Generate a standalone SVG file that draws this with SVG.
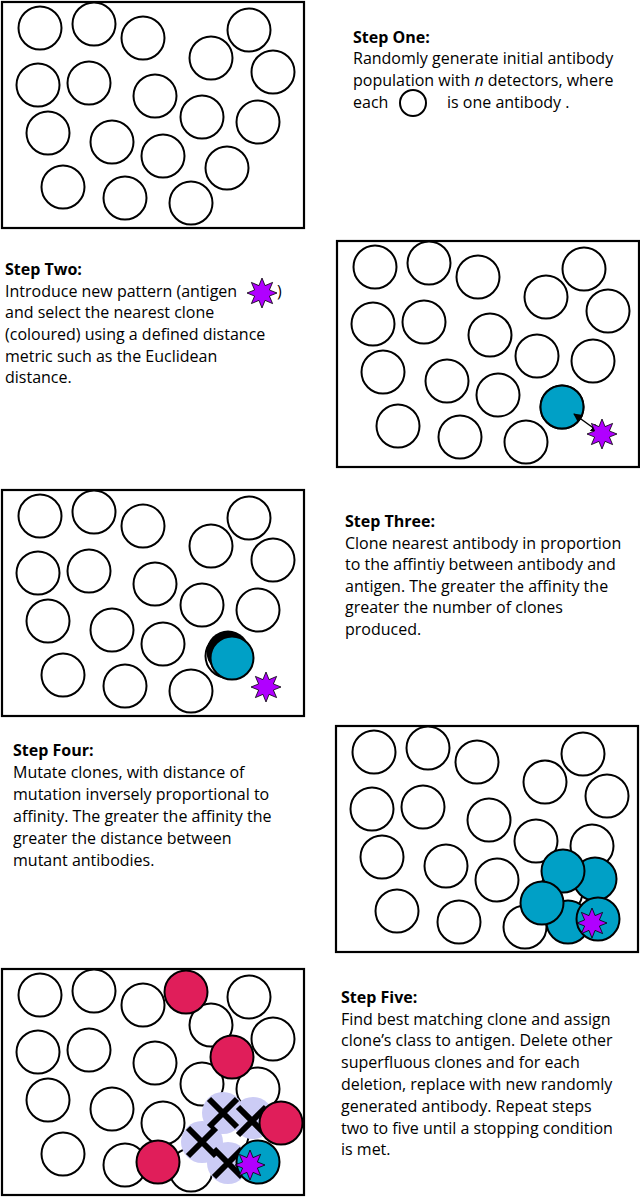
<svg xmlns="http://www.w3.org/2000/svg" xmlns:xlink="http://www.w3.org/1999/xlink" width="640" height="1198" viewBox="0 0 640 1198">
<style>
.box{fill:#fff;stroke:#000;stroke-width:2.2}
.c{fill:#fff;stroke:#000;stroke-width:2}
.cy{fill:#00a0c6;stroke:#000;stroke-width:2}
.rd{fill:#e01e5a;stroke:#000;stroke-width:2}
.lv{fill:#ccccf5;stroke:none}
.x{stroke:#000;stroke-width:6;fill:none}
.st{fill:#b000ff;stroke:#000;stroke-width:0.8}
text{font-family:"Open Sans","Noto Sans",sans-serif;font-size:16px;fill:#000}
.b{font-weight:bold}
</style>
<defs>
<path id="star" d="M0,-15 L3.06,-7.39 L10.61,-10.61 L7.39,-3.06 L15,0 L7.39,3.06 L10.61,10.61 L3.06,7.39 L0,15 L-3.06,7.39 L-10.61,10.61 L-7.39,3.06 L-15,0 L-7.39,-3.06 L-10.61,-10.61 L-3.06,-7.39 Z" class="st"/>
<g id="pop">
<rect class="box" x="2" y="2" width="302" height="226"/>
<circle class="c" cx="40" cy="28" r="21.5"/><circle class="c" cx="94" cy="24" r="21.5"/><circle class="c" cx="143" cy="38" r="21.5"/>
<circle class="c" cx="249" cy="30" r="21.5"/><circle class="c" cx="211" cy="58" r="21.5"/><circle class="c" cx="273" cy="72" r="21.5"/>
<circle class="c" cx="38" cy="85" r="21.5"/><circle class="c" cx="89" cy="83" r="21.5"/><circle class="c" cx="155" cy="96" r="21.5"/>
<circle class="c" cx="202" cy="117" r="21.5"/><circle class="c" cx="258" cy="122" r="21.5"/><circle class="c" cx="48" cy="133" r="21.5"/>
<circle class="c" cx="112" cy="142" r="21.5"/><circle class="c" cx="163" cy="156" r="21.5"/><circle class="c" cx="227" cy="168" r="21.5"/>
<circle class="c" cx="63" cy="187" r="21.5"/><circle class="c" cx="125" cy="198" r="21.5"/><circle class="c" cx="191" cy="203" r="21.5"/>
</g>
<marker id="ah" viewBox="0 0 10 10" refX="9" refY="5" markerWidth="6" markerHeight="6" orient="auto-start-reverse"><path d="M0,0 L10,5 L0,10 Z" fill="#000"/></marker>
</defs>

<g id="panel1"><use xlink:href="#pop"/></g>
<g id="text1">
<text x="353" y="43" class="b">Step One:</text>
<text x="353" y="64">Randomly generate initial antibody</text>
<text x="353" y="86">population with <tspan font-style="italic">n</tspan> detectors, where</text>
<text x="353" y="108">each</text>
<circle class="c" cx="413" cy="103" r="13"/>
<text x="447" y="108">is one antibody .</text>
</g>

<g id="panel2" transform="translate(335,239)">
<use xlink:href="#pop"/>
<circle class="cy" cx="227" cy="168" r="21.5"/>
</g>
<g id="connectors">
<line x1="599" y1="432" x2="574" y2="414" stroke="#000" stroke-width="1.5" marker-start="url(#ah)" marker-end="url(#ah)"/>
</g>
<use xlink:href="#star" x="602" y="434"/>
<g id="text2">
<text x="5" y="275" class="b">Step Two:</text>
<text x="5" y="297">Introduce new pattern (antigen</text>
<use xlink:href="#star" x="262" y="293"/>
<text x="277" y="297">)</text>
<text x="5" y="318">and select the nearest clone</text>
<text x="5" y="340">(coloured) using a defined distance</text>
<text x="5" y="362">metric such as the Euclidean</text>
<text x="5" y="383">distance.</text>
</g>

<g id="panel3" transform="translate(0,488)">
<use xlink:href="#pop"/>
<circle cx="228" cy="164" r="21.5" fill="#000"/>
<circle class="cy" cx="232" cy="170" r="21.5"/>
<use xlink:href="#star" x="266" y="199"/>
</g>
<g id="text3">
<text x="345" y="527" class="b">Step Three:</text>
<text x="345" y="549">Clone nearest antibody in proportion</text>
<text x="345" y="570">to the affintiy between antibody and</text>
<text x="345" y="592">antigen. The greater the affinity the</text>
<text x="345" y="613">greater the number of clones</text>
<text x="345" y="635">produced.</text>
</g>

<g id="panel4" transform="translate(334,724)">
<use xlink:href="#pop"/>
<circle class="cy" cx="261" cy="155" r="21.5"/>
<circle class="cy" cx="229" cy="147" r="21.5"/>
<circle class="cy" cx="234" cy="198" r="21.5"/>
<circle class="cy" cx="208" cy="179" r="21.5"/>
<circle class="cy" cx="264" cy="195" r="21.5"/>
<use xlink:href="#star" x="258" y="199"/>
</g>
<g id="text4">
<text x="13" y="756" class="b">Step Four:</text>
<text x="13" y="778">Mutate clones, with distance of</text>
<text x="13" y="800">mutation inversely proportional to</text>
<text x="13" y="822">affinity. The greater the affinity the</text>
<text x="13" y="844">greater the distance between</text>
<text x="13" y="866">mutant antibodies.</text>
</g>

<g id="panel5" transform="translate(0,967)">
<use xlink:href="#pop"/>
<circle class="lv" cx="223" cy="146" r="21"/>
<circle class="lv" cx="253" cy="151" r="21"/>
<circle class="lv" cx="202" cy="175" r="21"/>
<circle class="lv" cx="228" cy="196" r="21"/>
<path class="x" d="M209,132 L237,160 M237,132 L209,160 M188,161 L216,189 M216,161 L188,189 M214,182 L242,210 M242,182 L214,210 M238,140 L266,168 M266,140 L238,168"/>
<circle class="rd" cx="186" cy="25" r="21.5"/>
<circle class="rd" cx="232" cy="90" r="21.5"/>
<circle class="rd" cx="281" cy="156" r="21.5"/>
<circle class="rd" cx="158" cy="195" r="21.5"/>
<circle class="cy" cx="258" cy="195" r="21.5"/>
<use xlink:href="#star" x="250" y="198"/>
</g>
<g id="text5">
<text x="341" y="1003" class="b">Step Five:</text>
<text x="341" y="1025">Find best matching clone and assign</text>
<text x="341" y="1046">clone’s class to antigen. Delete other</text>
<text x="341" y="1068">superfluous clones and for each</text>
<text x="341" y="1090">deletion, replace with new randomly</text>
<text x="341" y="1112">generated antibody. Repeat steps</text>
<text x="341" y="1134">two to five until a stopping condition</text>
<text x="341" y="1155">is met.</text>
</g>
</svg>
